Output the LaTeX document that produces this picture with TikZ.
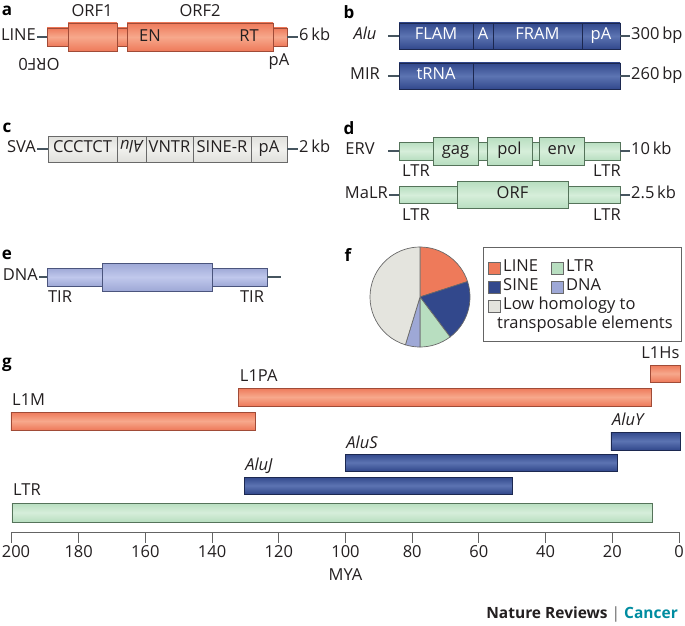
\documentclass[tikz,border=0pt]{standalone}
\usepackage{fontspec}
\setmainfont{Open Sans}
\usepackage{tikz}
\usetikzlibrary{positioning}
\usepackage{xcolor}

\definecolor{txt}{RGB}{35,31,32}
\definecolor{linefill}{RGB}{238,122,90}
\definecolor{linelight}{RGB}{247,168,140}
\definecolor{lineedge}{RGB}{160,75,55}
\definecolor{sinefill}{RGB}{50,72,140}
\definecolor{sinelight}{RGB}{92,116,178}
\definecolor{sineedge}{RGB}{28,40,80}
\definecolor{svafill}{RGB}{224,224,220}
\definecolor{svalight}{RGB}{240,240,237}
\definecolor{svaedge}{RGB}{105,105,105}
\definecolor{ltrfill}{RGB}{184,222,192}
\definecolor{ltrlight}{RGB}{214,238,218}
\definecolor{ltredge}{RGB}{85,115,90}
\definecolor{dnafill}{RGB}{158,168,214}
\definecolor{dnalight}{RGB}{192,200,236}
\definecolor{dnaedge}{RGB}{75,85,125}
\definecolor{lowfill}{RGB}{228,228,222}
\definecolor{stubcol}{RGB}{70,85,95}
\definecolor{axiscol}{RGB}{100,100,100}
\definecolor{nrteal}{RGB}{0,140,160}

\tikzset{
  box/.style={draw, outer sep=0pt, inner sep=0pt, text=txt, text height=1.33ex, text depth=0pt, line width=0.8pt},
  linebox/.style={box, draw=lineedge, top color=linefill, bottom color=linefill, middle color=linelight},
  sinebox/.style={box, draw=sineedge, top color=sinefill, bottom color=sinefill, middle color=sinelight, text=white},
  svabox/.style={box, draw=svaedge, top color=svafill, bottom color=svafill, middle color=svalight},
  ltrbox/.style={box, draw=ltredge, top color=ltrfill, bottom color=ltrfill, middle color=ltrlight},
  dnabox/.style={box, draw=dnaedge, top color=dnafill, bottom color=dnafill, middle color=dnalight},
  lbl/.style={inner sep=1pt, text=txt, text height=1.33ex, text depth=0pt},
  panel/.style={inner sep=0pt, text=black, font=\fontsize{17}{20}\selectfont\bfseries},
  stub/.style={draw=stubcol, line width=1.2pt},
  swatch/.style={draw=svaedge, minimum size=12pt, inner sep=0pt, line width=0.6pt}
}

\begin{document}
\begin{tikzpicture}[x=1pt, y=-1pt, font=\fontsize{16.5}{19}\selectfont]
    \useasboundingbox (0,0) rectangle (685,626);

    \node[panel] (pa) at (7,11) {a};
    \node[linebox, minimum width=240pt, minimum height=18pt] (lineBar) at (167,37) {};
    \node[linebox, minimum width=49pt, minimum height=28pt] (orf1) at (92.5,37) {};
    \node[linebox, minimum width=146pt, minimum height=28pt] (orf2) at (200,37) {};
    \node[lbl] (orf1T) at (92,13) {ORF1};
    \node[lbl] (orf2T) at (200,13) {ORF2};
    \node[lbl] (en) at (150,38) {EN};
    \node[lbl] (rt) at (249,38) {RT};
    \node[lbl, rotate=180] (orf0) at (39,62) {ORF0};
    \node[lbl] (lpa) at (279,62) {pA};
    \node[lbl, anchor=east] (lineL) at (37,37) {LINE};
    \node[lbl, anchor=west] (lineKb) at (298,37) {6\,kb};
    \draw[stub] (lineL.east) -- (lineBar.west);
    \draw[stub] (lineBar.east) -- (lineKb.west);

    \node[panel] (pb) at (349,12) {b};
    \node[sinebox, minimum width=74pt, minimum height=26pt] (flam) at (436,36) {FLAM};
    \node[sinebox, minimum width=20pt, minimum height=26pt, right=0pt of flam] (aBox) {A};
    \node[sinebox, minimum width=89pt, minimum height=26pt, right=0pt of aBox] (fram) {FRAM};
    \node[sinebox, minimum width=38pt, minimum height=26pt, right=0pt of fram] (apa) {pA};
    \node[lbl] (aluL) at (365,36) {\itshape Alu};
    \coordinate (aluS) at (388,36);
    \node[lbl, anchor=west] (aluBp) at (630,36) {300\,bp};
    \draw[stub] (aluS) -- (flam.west);
    \draw[stub] (apa.east) -- (aluBp.west);
    \node[sinebox, minimum width=74pt, minimum height=26pt] (trna) at (436,76) {tRNA};
    \node[sinebox, minimum width=147pt, minimum height=26pt, right=0pt of trna] (mirRest) {};
    \node[lbl] (mirL) at (365,76) {MIR};
    \coordinate (mirS) at (388,76);
    \node[lbl, anchor=west] (mirBp) at (630,76) {260\,bp};
    \draw[stub] (mirS) -- (trna.west);
    \draw[stub] (mirRest.east) -- (mirBp.west);

    \node[panel] (pc) at (7,128) {c};
    \node[svabox, minimum width=69pt, minimum height=26pt] (ccct) at (82.5,149) {CCCTCT};
    \node[svabox, minimum width=29pt, minimum height=26pt, right=0pt of ccct] (aluRev) {\rotatebox[origin=c]{180}{\itshape Alu}};
    \node[svabox, minimum width=47pt, minimum height=26pt, right=0pt of aluRev] (vntr) {VNTR};
    \node[svabox, minimum width=58pt, minimum height=26pt, right=0pt of vntr] (siner) {SINE-R};
    \node[svabox, minimum width=36pt, minimum height=26pt, right=0pt of siner] (svapa) {pA};
    \node[lbl, anchor=east] (svaL) at (37,149) {SVA};
    \node[lbl, anchor=west] (svaKb) at (298,149) {2\,kb};
    \draw[stub] (svaL.east) -- (ccct.west);
    \draw[stub] (svapa.east) -- (svaKb.west);

    \node[panel] (pd) at (349,128) {d};
    \node[ltrbox, minimum width=221pt, minimum height=18pt] (ervBar) at (509.5,151) {};
    \node[ltrbox, minimum width=45pt, minimum height=28pt] (gag) at (455.5,151) {gag};
    \node[ltrbox, minimum width=45pt, minimum height=28pt] (pol) at (509.5,151) {pol};
    \node[ltrbox, minimum width=45pt, minimum height=28pt] (env) at (561.5,151) {env};
    \node[lbl] (ervL) at (360,151) {ERV};
    \coordinate (ervS) at (388,151);
    \node[lbl, anchor=west] (ervKb) at (630,151) {10\,kb};
    \draw[stub] (ervS) -- (ervBar.west);
    \draw[stub] (ervBar.east) -- (ervKb.west);
    \node[lbl] (ervLtr1) at (416,173) {LTR};
    \node[lbl] (ervLtr2) at (607,173) {LTR};
    \node[ltrbox, minimum width=221pt, minimum height=17pt] (malrBar) at (509.5,195) {};
    \node[ltrbox, minimum width=111pt, minimum height=27pt] (orf) at (512.5,195) {ORF};
    \node[lbl, anchor=east] (malrL) at (389,195) {MaLR};
    \node[lbl, anchor=west] (malrKb) at (630,195) {2.5\,kb};
    \draw[stub] (malrL.east) -- (malrBar.west);
    \draw[stub] (malrBar.east) -- (malrKb.west);
    \node[lbl] (malrLtr1) at (416,217) {LTR};
    \node[lbl] (malrLtr2) at (607,217) {LTR};

    \node[panel] (pe) at (7,255) {e};
    \node[dnabox, minimum width=220pt, minimum height=18pt] (dnaBar) at (157,277) {};
    \node[dnabox, minimum width=110pt, minimum height=28pt] (dnaCore) at (157,277) {};
    \node[lbl, anchor=east] (dnaL) at (39,277) {DNA};
    \coordinate (dnaEnd) at (281,277);
    \draw[stub] (dnaL.east) -- (dnaBar.west);
    \draw[stub] (dnaBar.east) -- (dnaEnd);
    \node[lbl] (tir1) at (60,299) {TIR};
    \node[lbl] (tir2) at (252,299) {TIR};

    \node[panel] (pf) at (348,255) {f};
    \begin{scope}[shift={(420,297)}, y=1pt, draw=svaedge, line width=0.7pt]
        \filldraw[fill=linefill] (0,0) -- (90:50) arc[start angle=90, end angle=18, radius=50] -- cycle;
        \filldraw[fill=sinefill] (0,0) -- (18:50) arc[start angle=18, end angle=-53, radius=50] -- cycle;
        \filldraw[fill=ltrfill] (0,0) -- (-53:50) arc[start angle=-53, end angle=-90, radius=50] -- cycle;
        \filldraw[fill=dnafill] (0,0) -- (-90:50) arc[start angle=-90, end angle=-107, radius=50] -- cycle;
        \filldraw[fill=lowfill] (0,0) -- (-107:50) arc[start angle=-107, end angle=-270, radius=50] -- cycle;
    \end{scope}
    \draw[axiscol, line width=0.8pt] (483,247) rectangle (681,341);
    \node[swatch, fill=linefill] (swLine) at (494,268) {};
    \node[swatch, fill=ltrfill] (swLtr) at (557,268) {};
    \node[swatch, fill=sinefill] (swSine) at (494,287) {};
    \node[swatch, fill=dnafill] (swDna) at (557,287) {};
    \node[swatch, fill=lowfill] (swLow) at (494,306) {};
    \node[lbl, anchor=west] (tLine) at (502,268) {LINE};
    \node[lbl, anchor=west] (tLtr) at (565,268) {LTR};
    \node[lbl, anchor=west] (tSine) at (502,287) {SINE};
    \node[lbl, anchor=west] (tDna) at (565,287) {DNA};
    \node[lbl, anchor=west] (tLow) at (502,306) {Low homology to};
    \node[lbl, anchor=west] (tTe) at (496,325) {transposable elements};

    \node[panel] (pg) at (7,365) {g};
    \begin{scope}[xshift=679pt, x=-3.335pt]
        \draw[linebox] (8.5,365) rectangle (-0.5,382);
        \draw[linebox] (132,388) rectangle (8.4,406);
        \draw[linebox] (200.3,412) rectangle (127.1,430);
        \draw[sinebox] (20.4,432) rectangle (-0.5,450);
        \draw[sinebox] (100.1,454) rectangle (18.6,471);
        \draw[sinebox] (130.4,477) rectangle (50.1,494);
        \draw[ltrbox] (200,503) rectangle (8.1,522);
        \node[lbl, anchor=east] (l1hs) at (-0.5,355) {L1Hs};
        \node[lbl, anchor=west] (l1pa) at (132,378) {L1PA};
        \node[lbl, anchor=west] (l1m) at (200.3,402) {L1M};
        \node[lbl, anchor=west] (aluY) at (20.4,422) {\itshape AluY};
        \node[lbl, anchor=west] (aluS) at (100.1,445) {\itshape AluS};
        \node[lbl, anchor=west] (aluJ) at (130.4,467) {\itshape AluJ};
        \node[lbl, anchor=west] (ltrG) at (200,492) {LTR};
        \draw[axiscol, line width=1pt] (200,532) -- (0,532);
        \foreach \m in {0,20,...,200}
            \draw[axiscol, line width=1pt] (\m,532) -- (\m,543);
        \foreach \m in {0,20,...,180}
            \node[lbl] (tick\m) at (\m,554) {\m};
        \node[lbl, anchor=west] (tick200) at (203.4,554) {200};
        \node[lbl] (mya) at (100,577) {MYA};
    \end{scope}

    \node[lbl, anchor=east, font=\fontsize{15.5}{19}\selectfont\bfseries] (credit) at (679,615) {Nature Reviews \textcolor{axiscol}{\mdseries|} \textcolor{nrteal}{Cancer}};
\end{tikzpicture}
\end{document}
